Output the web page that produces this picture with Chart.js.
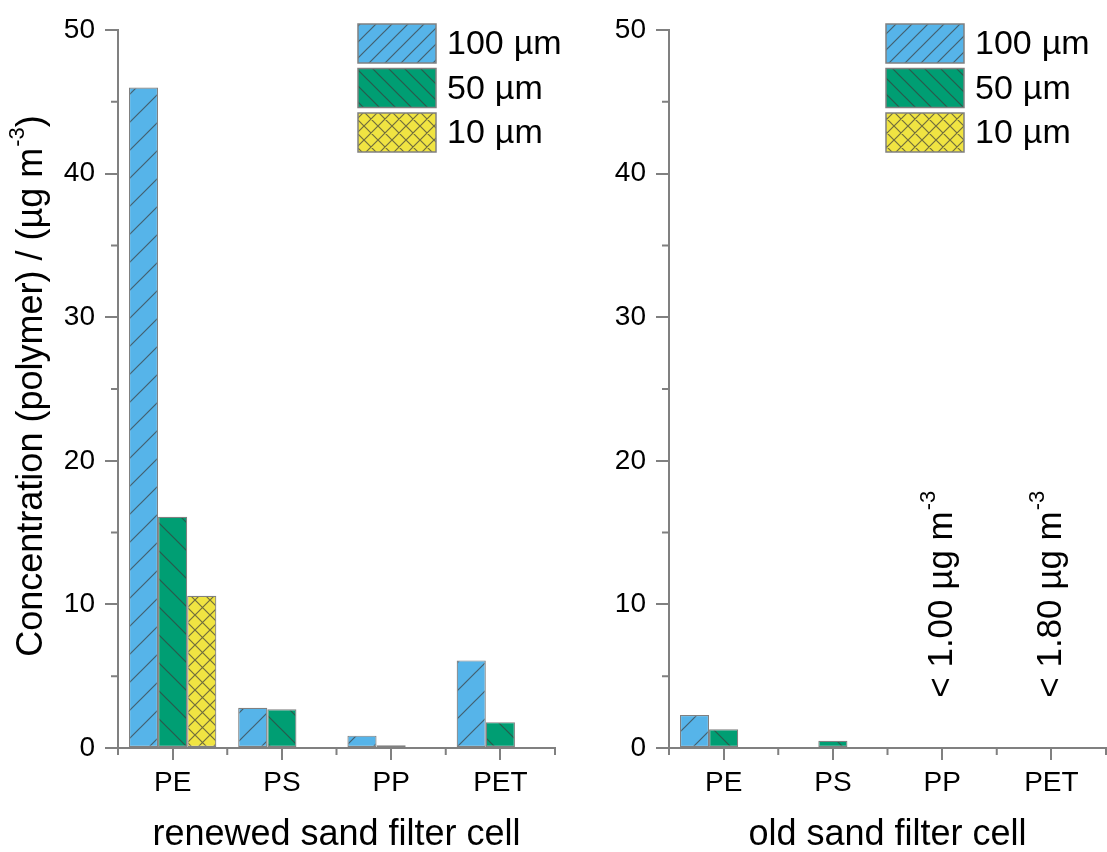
<!DOCTYPE html>
<html>
<head>
<meta charset="utf-8">
<script src="https://cdn.jsdelivr.net/npm/chart.js@4.4.0/dist/chart.umd.min.js"></script>
<style>
  body { margin: 0; background: #fff; width: 1107px; height: 852px; overflow: hidden; position: relative; }
  #left { position: absolute; left: 0; top: 0; }
  #right { position: absolute; left: 600px; top: 0; }
</style>
</head>
<body>
<canvas id="left" width="600" height="852"></canvas>
<canvas id="right" width="507" height="852"></canvas>
<script>
// values (µg m-3)
const categories = ['PE', 'PS', 'PP', 'PET'];
const sizes = ['100 µm', '50 µm', '10 µm'];
const renewed100 = [46.0, 2.8, 0.86, 6.1];
const renewed50 = [16.1, 2.7, 0.2, 1.8];
const renewed10 = [10.6, null, null, null];
const old100 = [2.3, null, null, null];
const old50 = [1.3, 0.5, null, null];
const old10 = [null, null, null, null];
const oldLimits = [null, null, '< 1.00 µg m', '< 1.80 µg m'];
const yMinorTicks = [5, 15, 25, 35, 45];

const FONT = "'Liberation Sans', Arial, sans-serif";
const AXIS = '#808080';
const colors = ['#56B4E9', '#009E73', '#F0E442'];

function hatch(bg, kind, size) {
  let c = document.createElement('canvas');
  c.width = size; c.height = size;
  let g = c.getContext('2d');
  g.fillStyle = bg;
  g.fillRect(0, 0, size, size);
  g.strokeStyle = 'rgba(60,60,60,0.7)';
  g.lineWidth = 1.2;
  g.beginPath();
  if (kind === 'up' || kind === 'cross') {
    g.moveTo(-1, size + 1); g.lineTo(size + 1, -1);
    g.moveTo(-1, 1); g.lineTo(1, -1);
    g.moveTo(size - 1, size + 1); g.lineTo(size + 1, size - 1);
  }
  if (kind === 'down' || kind === 'cross') {
    g.moveTo(-1, -1); g.lineTo(size + 1, size + 1);
    g.moveTo(size - 1, -1); g.lineTo(size + 1, 1);
    g.moveTo(-1, size - 1); g.lineTo(1, size + 1);
  }
  g.stroke();
  return g.createPattern(c, 'repeat');
}

const barPatterns = [hatch(colors[0], 'up', 28), hatch(colors[1], 'down', 28), hatch(colors[2], 'cross', 15)];
const legendPatterns = [hatch(colors[0], 'up', 16), hatch(colors[1], 'down', 16), hatch(colors[2], 'cross', 14)];

function drawSup(ctx, x, y, text, sup, size) {
  ctx.font = size + 'px ' + FONT;
  ctx.fillText(text, x, y);
  let w = ctx.measureText(text).width;
  ctx.font = Math.round(size * 0.62) + 'px ' + FONT;
  ctx.fillText(sup, x + w + 1, y - size * 0.38);
  return w + 1 + ctx.measureText(sup).width;
}

function extras(legendX, notes, yTitle) {
  return {
    id: 'extras',
    afterDraw(chart) {
      const ctx = chart.ctx;
      const xs = chart.scales.x, ys = chart.scales.y;
      const area = chart.chartArea;
      ctx.save();
      // minor ticks
      ctx.strokeStyle = AXIS;
      ctx.lineWidth = 2;
      ctx.beginPath();
      yMinorTicks.forEach(v => {
        let p = ys.getPixelForValue(v);
        ctx.moveTo(area.left - 7, p); ctx.lineTo(area.left, p);
      });
      for (let i = 0; i <= categories.length; i++) {
        let p = xs.getPixelForValue(i - 0.5);
        ctx.moveTo(p, area.bottom); ctx.lineTo(p, area.bottom + 7);
      }
      ctx.stroke();

      // legend
      ctx.textBaseline = 'middle';
      ctx.textAlign = 'left';
      chart.data.datasets.forEach((ds, i) => {
        let y = 24 + i * 44.5;
        ctx.fillStyle = legendPatterns[i];
        ctx.fillRect(legendX, y, 78, 39);
        ctx.strokeStyle = AXIS;
        ctx.lineWidth = 1.5;
        ctx.strokeRect(legendX, y, 78, 39);
        ctx.fillStyle = '#000';
        ctx.font = '34px ' + FONT;
        let parts = ds.label.split(' ');
        ctx.fillText(parts[0], legendX + 89, y + 21);
        let w = ctx.measureText(parts[0]).width;
        ctx.fillText(parts[1], legendX + 89 + w + 10, y + 21);
      });

      // detection limit notes
      notes.forEach((t, i) => {
        if (!t) return;
        ctx.save();
        ctx.translate(xs.getPixelForValue(i), ys.getPixelForValue(3.5));
        ctx.rotate(-Math.PI / 2);
        ctx.textBaseline = 'middle';
        ctx.fillStyle = '#000';
        drawSup(ctx, 0, 0, t, '-3', 35);
        ctx.restore();
      });

      // y title with superscript
      if (yTitle) {
        ctx.save();
        ctx.font = '36px ' + FONT;
        let w1 = ctx.measureText(yTitle).width;
        ctx.font = '22px ' + FONT;
        let w2 = ctx.measureText('-3').width;
        ctx.font = '36px ' + FONT;
        let w3 = ctx.measureText(')').width;
        let total = w1 + 1 + w2 + w3;
        ctx.translate(32, (area.top + area.bottom) / 2 - 3);
        ctx.rotate(-Math.PI / 2);
        ctx.textBaseline = 'middle';
        ctx.fillStyle = '#000';
        let x0 = -total / 2;
        let w = drawSup(ctx, x0, 0, yTitle, '-3', 36);
        ctx.font = '36px ' + FONT;
        ctx.fillText(')', x0 + w, 0);
        ctx.restore();
      }
      ctx.restore();
    }
  };
}

function makeChart(id, d100, d50, d10, xTitle, yWidth, rightPad, legendX, notes, yTitle) {
  const series = [d100, d50, d10];
  return new Chart(document.getElementById(id).getContext('2d'), {
    type: 'bar',
    data: {
      labels: categories,
      datasets: series.map((d, i) => ({
        label: sizes[i],
        data: d,
        backgroundColor: barPatterns[i],
        borderColor: AXIS,
        borderWidth: 1.2,
        borderSkipped: false,
        categoryPercentage: 0.8,
        barPercentage: 1.0
      }))
    },
    options: {
      responsive: false,
      animation: false,
      layout: { padding: { top: 30, right: rightPad, left: 0, bottom: 0 } },
      plugins: { legend: { display: false }, tooltip: { enabled: false } },
      scales: {
        x: {
          grid: { display: true, drawOnChartArea: false, drawTicks: true, tickLength: 12, offset: false, color: AXIS, lineWidth: 2 },
          border: { display: true, color: AXIS, width: 2 },
          ticks: { color: '#000', font: { family: FONT, size: 28 }, padding: 6, maxRotation: 0 },
          title: { display: true, text: xTitle, color: '#000', font: { family: FONT, size: 36, lineHeight: 0.95 }, padding: { top: 0, bottom: 0 } },
          afterFit: s => { s.height = 104; }
        },
        y: {
          min: 0, max: 50,
          grid: { display: true, drawOnChartArea: false, drawTicks: true, tickLength: 13, color: AXIS, lineWidth: 2 },
          border: { display: true, color: AXIS, width: 2 },
          ticks: { stepSize: 10, color: '#000', font: { family: FONT, size: 28 }, padding: 10 },
          afterFit: s => { s.width = yWidth; }
        }
      }
    },
    plugins: [extras(legendX, notes, yTitle)]
  });
}

makeChart('left', renewed100, renewed50, renewed10, 'renewed sand filter cell', 118, 45, 358, [], 'Concentration (polymer) / (µg m');
makeChart('right', old100, old50, old10, 'old sand filter cell', 69, 1, 286, oldLimits, null);
</script>
</body>
</html>
